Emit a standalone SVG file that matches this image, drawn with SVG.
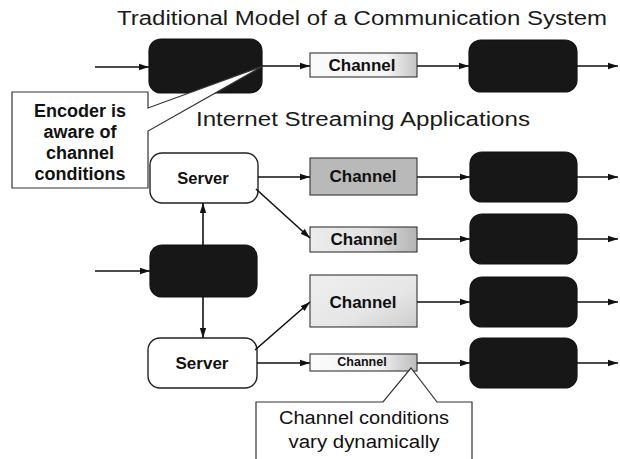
<svg xmlns="http://www.w3.org/2000/svg" width="620" height="459" viewBox="0 0 620 459">
<defs>
<style>
.dark{fill:#171717;stroke:#111;stroke-width:1.2}
.srv{fill:#fff;stroke:#222;stroke-width:1.4}
.ch{stroke:#333;stroke-width:1.1}
.lbl{font-family:"Liberation Sans",Arial,sans-serif;font-weight:bold;fill:#111;text-anchor:middle;dominant-baseline:central}
.ttl{font-family:"Liberation Sans",Arial,sans-serif;fill:#1a1a1a;text-anchor:middle;dominant-baseline:central;font-size:20px}
.note{font-family:"Liberation Sans",Arial,sans-serif;fill:#111;text-anchor:middle;dominant-baseline:central}
.cn line{stroke:#111;stroke-width:1.6;marker-end:url(#ah)}
.callout{fill:#fff;stroke:#333;stroke-width:1.2}
</style>
<marker id="ah" markerUnits="userSpaceOnUse" markerWidth="10" markerHeight="8" refX="10" refY="4" orient="auto">
<path d="M0,0.8 L10,4 L0,7.2 z" fill="#111"/>
</marker>
<linearGradient id="gTop" x1="0" x2="1" y1="0" y2="0"><stop offset="0" stop-color="#fafafa"/><stop offset="0.72" stop-color="#f4f4f4"/><stop offset="1" stop-color="#c4c4c4"/></linearGradient>
<linearGradient id="g2" x1="0" x2="1" y1="0" y2="0"><stop offset="0" stop-color="#ececec"/><stop offset="0.55" stop-color="#e2e2e2"/><stop offset="1" stop-color="#b4b4b4"/></linearGradient>
<linearGradient id="g3" x1="0" x2="1" y1="0" y2="1"><stop offset="0" stop-color="#efefef"/><stop offset="0.6" stop-color="#e6e6e6"/><stop offset="1" stop-color="#cdcdcd"/></linearGradient>
<linearGradient id="g4" x1="0" x2="1" y1="0" y2="0"><stop offset="0" stop-color="#fbfbfb"/><stop offset="0.65" stop-color="#f2f2f2"/><stop offset="1" stop-color="#bcbcbc"/></linearGradient>
</defs>
<rect width="620" height="459" fill="#fff"/>

<text class="ttl" x="362" y="18" textLength="490" lengthAdjust="spacingAndGlyphs">Traditional Model of a Communication System</text>
<text class="ttl" x="363" y="119" textLength="334" lengthAdjust="spacingAndGlyphs">Internet Streaming Applications</text>

<g id="encoder-top"><rect class="dark" x="149" y="39" width="113" height="54" rx="12"/></g>
<g id="channel-top"><rect class="ch" x="310" y="53" width="107" height="24" fill="url(#gTop)"/><text class="lbl" x="362" y="65" font-size="17">Channel</text></g>
<g id="decoder-top"><rect class="dark" x="469" y="40" width="108" height="52" rx="12"/></g>

<g id="server1"><rect class="srv" x="150" y="153" width="108" height="50" rx="12"/><text class="lbl" x="203" y="178" font-size="16.5">Server</text></g>
<g id="channel1"><rect class="ch" x="310" y="158" width="107" height="37" fill="#b9b9b9"/><text class="lbl" x="363" y="176" font-size="17">Channel</text></g>
<g id="decoder1"><rect class="dark" x="470" y="152" width="107" height="50" rx="12"/></g>

<g id="channel2"><rect class="ch" x="310" y="227" width="107" height="25" fill="url(#g2)"/><text class="lbl" x="364" y="239" font-size="17">Channel</text></g>
<g id="decoder2"><rect class="dark" x="470" y="214" width="107" height="50" rx="12"/></g>

<g id="encoder-mid"><rect class="dark" x="150" y="245" width="107" height="52" rx="12"/></g>

<g id="channel3"><rect class="ch" x="310" y="275" width="107" height="52" fill="url(#g3)"/><text class="lbl" x="363" y="302" font-size="17">Channel</text></g>
<g id="decoder3"><rect class="dark" x="470" y="277" width="107" height="50" rx="12"/></g>

<g id="server2"><rect class="srv" x="148" y="338" width="109" height="50" rx="12"/><text class="lbl" x="202" y="363" font-size="17">Server</text></g>
<g id="channel4"><rect class="ch" x="310" y="354" width="107" height="17" fill="url(#g4)"/><text class="lbl" x="362" y="362" font-size="12.5">Channel</text></g>
<g id="decoder4"><rect class="dark" x="470" y="338" width="107" height="50" rx="12"/></g>

<g id="connectors" class="cn">
<line x1="95" y1="67" x2="149" y2="67"/>
<line x1="262" y1="66" x2="310" y2="66"/>
<line x1="417" y1="66" x2="469" y2="66"/>
<line x1="577" y1="66" x2="618" y2="66"/>
<line x1="258" y1="177" x2="310" y2="177"/>
<line x1="417" y1="177" x2="470" y2="177"/>
<line x1="577" y1="177" x2="618" y2="177"/>
<line x1="256" y1="189" x2="310" y2="238"/>
<line x1="417" y1="239" x2="470" y2="239"/>
<line x1="577" y1="239" x2="618" y2="239"/>
<line x1="255" y1="350" x2="310" y2="302"/>
<line x1="417" y1="302" x2="470" y2="302"/>
<line x1="577" y1="302" x2="618" y2="302"/>
<line x1="257" y1="363" x2="310" y2="363"/>
<line x1="417" y1="363" x2="470" y2="363"/>
<line x1="577" y1="363" x2="618" y2="363"/>
<line x1="95" y1="271" x2="150" y2="271"/>
<line x1="203" y1="245" x2="203" y2="203"/>
<line x1="203" y1="297" x2="203" y2="338"/>
</g>

<g id="callout-encoder">
<path class="callout" d="M148,92 L12,92 L12,188 L148,188 L148,131 L263,66 L148,108 Z"/>
<text class="lbl" x="80" y="111" font-size="18">Encoder is</text>
<text class="lbl" x="80" y="132" font-size="18">aware of</text>
<text class="lbl" x="80" y="153" font-size="18">channel</text>
<text class="lbl" x="80" y="174" font-size="18">conditions</text>
</g>

<g id="callout-channel">
<path class="callout" d="M256,470 L256,402 L383,402 L411,368 L437,402 L472,402 L472,470"/>
<text class="note" x="364" y="418" font-size="18" textLength="170" lengthAdjust="spacingAndGlyphs">Channel conditions</text>
<text class="note" x="364" y="442" font-size="18" textLength="151" lengthAdjust="spacingAndGlyphs">vary dynamically</text>
</g>
</svg>
